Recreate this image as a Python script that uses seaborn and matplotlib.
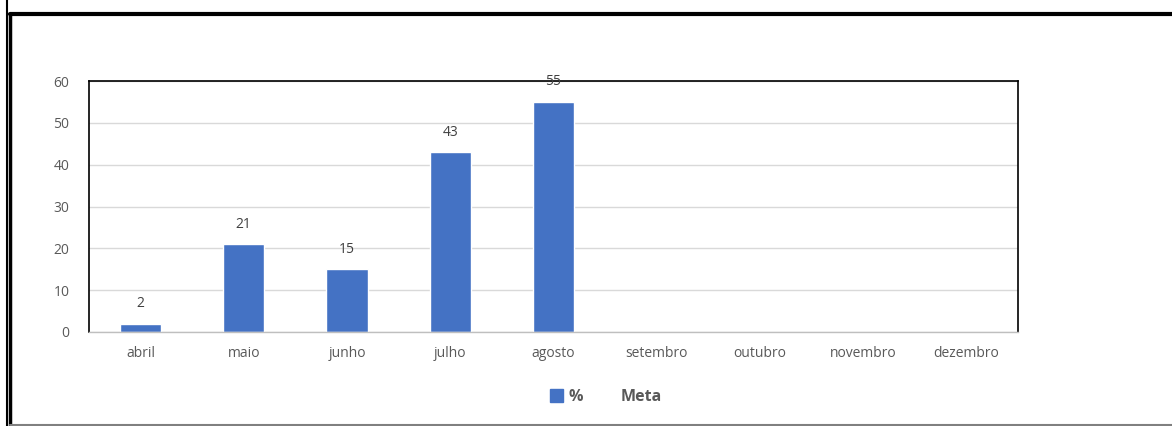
import matplotlib
matplotlib.use("Agg")
import matplotlib.pyplot as plt
import seaborn as sns
import pandas as pd
from matplotlib.patches import Patch
from matplotlib.lines import Line2D

meses = ["abril", "maio", "junho", "julho", "agosto",
         "setembro", "outubro", "novembro", "dezembro"]
percentual = [2, 21, 15, 43, 55, None, None, None, None]
rotulos = ["2", "21", "15", "43", "55"]

df = pd.DataFrame({"Mes": meses, "Percentual": percentual})

sns.set_style("white")
plt.rcParams["font.family"] = ["Open Sans", "DejaVu Sans"]

fig = plt.figure(figsize=(11.72, 4.26), dpi=100)
ax = fig.add_axes([0.0759, 0.2207, 0.7927, 0.589])

sns.barplot(data=df, x="Mes", y="Percentual", color="#4472C4",
            width=0.4, saturation=1, ax=ax, order=meses)

for cont in ax.containers:
    ax.bar_label(cont, labels=rotulos + [""] * (len(cont) - len(rotulos)),
                 padding=9, fontsize=10, color="#404040")

ax.set_ylim(0, 60)
ax.set_yticks(range(0, 61, 10))
ax.set_xlim(-0.5, len(meses) - 0.5)
ax.yaxis.grid(True, color="#D9D9D9", linewidth=1)
ax.set_axisbelow(True)
ax.set_xlabel("")
ax.set_ylabel("")
ax.tick_params(axis="both", length=0, labelsize=10, colors="#595959", pad=10)
ax.tick_params(axis="y", pad=14)

for lado in ["top", "left", "right"]:
    ax.spines[lado].set_color("#000000")
    ax.spines[lado].set_linewidth(1.2)
    ax.spines[lado].set_visible(True)
ax.spines["bottom"].set_color("#BFBFBF")
ax.spines["bottom"].set_linewidth(1)

handles = [Patch(color="#4472C4", label="%"),
           Line2D([], [], color="none", label="Meta")]
leg = fig.legend(handles=handles, loc="center", bbox_to_anchor=(0.517, 0.068),
                 ncol=2, frameon=False, handlelength=0.8, handleheight=0.8,
                 handletextpad=0.35, columnspacing=1.2,
                 prop={"weight": "bold", "size": 11.5})
for t in leg.get_texts():
    t.set_color("#595959")

# moldura externa
fig.add_artist(Line2D([0.006, 0.006], [0, 1], color="black", lw=1.5))
fig.add_artist(Line2D([0.0085, 0.0085], [0, 0.968], color="black", lw=2.5))
fig.add_artist(Line2D([0.0085, 1], [0.966, 0.966], color="black", lw=3))
fig.add_artist(Line2D([0.0085, 1], [0.003, 0.003], color="#808080", lw=1.5))

fig.savefig("out.png", dpi=100)
